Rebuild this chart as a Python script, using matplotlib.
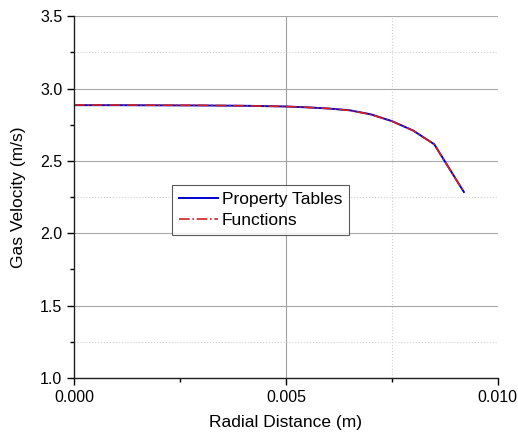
import matplotlib.pyplot as plt
from matplotlib.ticker import MultipleLocator

plt.rcParams['font.family'] = ['Liberation Sans', 'DejaVu Sans']

# radial position (m) and gas velocity (m/s)
radial = [0.0, 0.001, 0.002, 0.003, 0.004, 0.005, 0.0055, 0.006, 0.0065,
          0.007, 0.0075, 0.008, 0.0085, 0.0092]
vel_tables = [2.885, 2.885, 2.884, 2.883, 2.881, 2.876, 2.870, 2.862, 2.850,
              2.822, 2.775, 2.71, 2.615, 2.285]
vel_functions = [2.886, 2.886, 2.885, 2.884, 2.881, 2.876, 2.870, 2.862, 2.849,
                 2.821, 2.774, 2.71, 2.614, 2.284]

fig = plt.figure(figsize=(5.18, 4.37), dpi=100)
ax = fig.add_axes([0.143, 0.135, 0.818, 0.828])

ax.plot(radial, vel_tables, color='#0000cc', lw=1.4, label='Property Tables')
ax.plot(radial, vel_functions, color='#d42020', lw=1.2, ls='-.', label='Functions')

ax.set_xlim(0, 0.010)
ax.set_ylim(1.0, 3.5)
ax.set_xticks([0, 0.005, 0.010])
ax.set_xticklabels(['0.000', '0.005', '0.010'])
ax.xaxis.set_minor_locator(MultipleLocator(0.0025))
ax.set_yticks([1.0, 1.5, 2.0, 2.5, 3.0, 3.5])
ax.set_yticklabels(['1.0', '1.5', '2.0', '2.5', '3.0', '3.5'])
ax.yaxis.set_minor_locator(MultipleLocator(0.25))

# grid as it shows in the picture
ax.grid(axis='y', which='major', color='#a8a8a8', lw=0.8)
ax.axvline(0.005, color='#a0a0a0', lw=0.8, zorder=0)
ax.axvline(0.0075, color='#d0d0d0', lw=0.8, ls=':', zorder=0)
for yv in [1.25, 2.25, 3.25]:
    ax.axhline(yv, color='#d0d0d0', lw=0.8, ls=':', zorder=0)
ax.set_axisbelow(True)

for s in ['top', 'right']:
    ax.spines[s].set_visible(False)
for s in ['left', 'bottom']:
    ax.spines[s].set_linewidth(1.0)
    ax.spines[s].set_color('#202020')

ax.tick_params(which='major', direction='out', length=5, width=1.0, labelsize=11.5)
ax.tick_params(which='minor', direction='out', length=3, width=1.0)

ax.set_xlabel('Radial Distance (m)', fontsize=12.5, labelpad=7)
ax.set_ylabel('Gas Velocity (m/s)', fontsize=12.5, labelpad=10)

leg = ax.legend(loc='upper left', bbox_to_anchor=(0.232, 0.534), fontsize=12.5,
                frameon=True, fancybox=False, edgecolor='#303030',
                handlelength=2.2, handletextpad=0.25, borderpad=0.4,
                labelspacing=0.35, borderaxespad=0)
leg.get_frame().set_linewidth(0.8)

fig.savefig('out.png', dpi=100)
